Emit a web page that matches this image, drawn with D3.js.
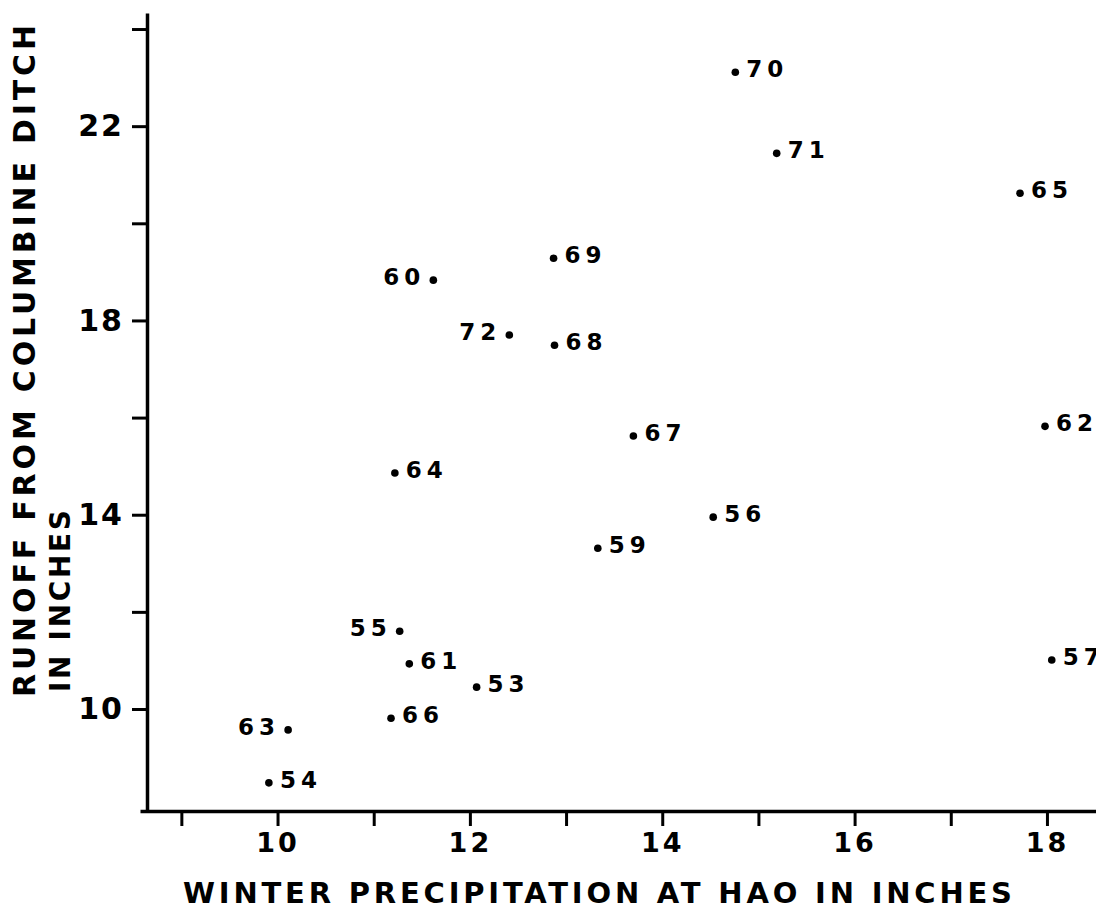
<!DOCTYPE html>
<html>
<head>
<meta charset="utf-8">
<script src="https://cdn.jsdelivr.net/npm/d3@7"></script>
<style>
  html, body { margin: 0; padding: 0; background: #fff; }
  svg { display: block; }
  text { font-family: "DejaVu Sans", sans-serif; font-weight: bold; fill: #000; }
</style>
</head>
<body>
<svg id="chart" width="1096" height="913"></svg>
<script>
// Water years, winter precipitation at HAO (in) and Columbine Ditch runoff (in)
const years   = ["70", "71", "65", "60", "69", "72", "68", "67", "64", "56",
                 "59", "55", "61", "53", "66", "63", "54", "62", "57"];
const precip  = [14.76, 15.19, 17.72, 11.62, 12.87, 12.41, 12.88, 13.70, 11.22, 14.53,
                 13.33, 11.27, 11.37, 12.07, 11.18, 10.11, 9.91, 17.98, 18.05];
const runoff  = [23.11, 21.44, 20.62, 18.83, 19.28, 17.70, 17.49, 15.62, 14.86, 13.95,
                 13.31, 11.60, 10.93, 10.45, 9.81, 9.57, 8.48, 15.82, 11.01];
// which side of its dot each year label sits on
const labelSide = ["r", "r", "r", "l", "r", "l", "r", "r", "r", "r",
                   "r", "l", "r", "r", "r", "l", "r", "r", "r"];

const xTickValues = [9, 10, 11, 12, 13, 14, 15, 16, 17, 18];
const xTickLabels = [10, 12, 14, 16, 18];
const yTickValues = [10, 12, 14, 16, 18, 20, 22, 24];
const yTickLabels = [10, 14, 18, 22];

const xTitle = "WINTER PRECIPITATION AT HAO IN INCHES";
const yTitle1 = "RUNOFF FROM COLUMBINE DITCH";
const yTitle2 = "IN INCHES";

const svg = d3.select("#chart");

const x = d3.scaleLinear().domain([8.57, 18.51]).range([140, 1096]);
const y = d3.scaleLinear().domain([7.9, 24.33]).range([811, 13]);
const yAxisX = 147;

// x axis
const gx = svg.append("g")
  .attr("transform", `translate(0,${y(7.9)})`)
  .call(d3.axisBottom(x)
    .tickValues(xTickValues)
    .tickSize(15)
    .tickSizeOuter(0)
    .tickPadding(7)
    .tickFormat(d => xTickLabels.includes(d) ? d : ""));
gx.select(".domain").attr("stroke", "#000").attr("stroke-width", 3.5);
gx.selectAll(".tick line").attr("stroke", "#000").attr("stroke-width", 3);
gx.selectAll(".tick text")
  .attr("font-size", 27).attr("letter-spacing", 3)
  .style("font-family", "\"DejaVu Sans\", sans-serif").style("font-weight", "bold");

// y axis
const gy = svg.append("g")
  .attr("transform", `translate(${yAxisX},0)`)
  .call(d3.axisLeft(y)
    .tickValues(yTickValues)
    .tickSize(15)
    .tickSizeOuter(0)
    .tickPadding(8)
    .tickFormat(d => yTickLabels.includes(d) ? d : ""));
gy.select(".domain").attr("stroke", "#000").attr("stroke-width", 3.5);
gy.selectAll(".tick line").attr("stroke", "#000").attr("stroke-width", 3);
gy.selectAll(".tick text")
  .attr("font-size", 30).attr("letter-spacing", 2)
  .style("font-family", "\"DejaVu Sans\", sans-serif").style("font-weight", "bold");

// axis titles
svg.append("text")
  .attr("x", 183).attr("y", 903)
  .attr("font-size", 29)
  .attr("textLength", 829).attr("lengthAdjust", "spacing")
  .text(xTitle);

svg.append("text")
  .attr("transform", "translate(35,697) rotate(-90)")
  .attr("font-size", 30)
  .attr("textLength", 672).attr("lengthAdjust", "spacing")
  .text(yTitle1);

svg.append("text")
  .attr("transform", "translate(70,692) rotate(-90)")
  .attr("font-size", 28)
  .attr("textLength", 182).attr("lengthAdjust", "spacing")
  .text(yTitle2);

// points with year labels
const pts = years.map((yr, i) => ({ yr, px: precip[i], ro: runoff[i], side: labelSide[i] }));

const g = svg.append("g");
g.selectAll("circle")
  .data(pts)
  .join("circle")
  .attr("cx", d => x(d.px))
  .attr("cy", d => y(d.ro))
  .attr("r", 3.8)
  .attr("fill", "#000");

g.selectAll("text.yr")
  .data(pts)
  .join("text")
  .attr("class", "yr")
  .attr("x", d => d.side === "r" ? x(d.px) + 11 : x(d.px) - 8)
  .attr("y", d => y(d.ro) + 5)
  .attr("text-anchor", d => d.side === "r" ? "start" : "end")
  .attr("font-size", 23)
  .attr("letter-spacing", 5)
  .text(d => d.yr);
</script>
</body>
</html>
